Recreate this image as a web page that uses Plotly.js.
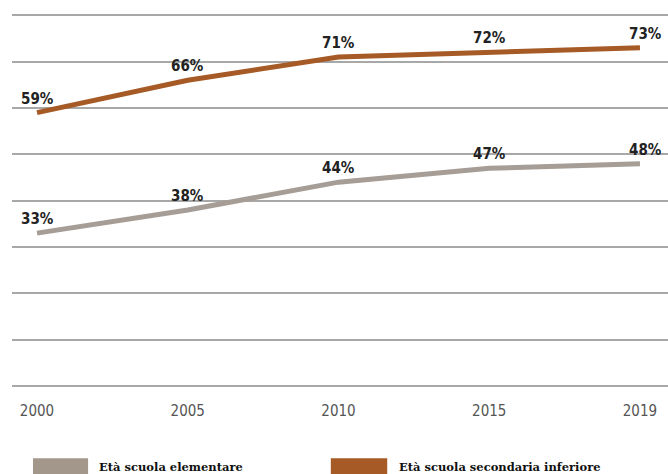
<!DOCTYPE html>
<html>
<head>
<meta charset="utf-8">
<script src="https://cdn.plot.ly/plotly-3.0.1.min.js"></script>
<style>html,body{margin:0;padding:0;background:#fff;}#chart{width:668px;height:474px;}</style>
</head>
<body>
<div id="chart"></div>
<script>
var years = ['2000', '2005', '2010', '2015', '2019'];
var elementare = [33, 38, 44, 47, 48];
var secondaria = [59, 66, 71, 72, 73];
var seriesNames = ['Età scuola elementare', 'Età scuola secondaria inferiore'];
var colors = ['#a59d96', '#a65a26'];

var narrow = '"Liberation Sans Narrow", "DejaVu Sans Condensed", Arial, sans-serif';
var labelFont = { family: narrow, size: 15, color: '#222' };

var traces = [
  { x: years, y: elementare, name: seriesNames[0], mode: 'lines', line: { color: colors[0], width: 5 }, hoverinfo: 'none' },
  { x: years, y: secondaria, name: seriesNames[1], mode: 'lines', line: { color: colors[1], width: 5 }, hoverinfo: 'none' }
];

var annotations = [];
[elementare, secondaria].forEach(function (series) {
  series.forEach(function (v, i) {
    annotations.push({
      x: i, y: v, xref: 'x', yref: 'y', text: '<b>' + v + '%</b>', showarrow: false,
      xanchor: 'center', yanchor: 'middle', yshift: 14, xshift: (i === years.length - 1 ? 6 : 0), font: labelFont
    });
  });
});

var legendFont = { family: '"DejaVu Serif", "Liberation Serif", serif', size: 11.5, color: '#111' };
annotations.push(
  { xref: 'paper', yref: 'paper', x: 0.1296, y: -0.218, xanchor: 'left', yanchor: 'middle', showarrow: false,
    text: '<b>' + seriesNames[0] + '</b>', font: legendFont },
  { xref: 'paper', yref: 'paper', x: 0.587, y: -0.218, xanchor: 'left', yanchor: 'middle', showarrow: false,
    text: '<b>' + seriesNames[1] + '</b>', font: legendFont }
);

var layout = {
  width: 668, height: 474,
  margin: { l: 12, r: 0, t: 14, b: 88 },
  paper_bgcolor: '#fff', plot_bgcolor: '#fff',
  showlegend: false,
  xaxis: {
    type: 'category', range: [-0.166, 4.186], showgrid: false, zeroline: false, showline: false,
    ticks: 'outside', ticklen: 11, tickcolor: 'rgba(0,0,0,0)',
    tickfont: { family: narrow, size: 15, color: '#555' }
  },
  yaxis: {
    range: [0, 80.3], dtick: 10, showticklabels: false, showgrid: true, gridcolor: '#a8a8a8', gridwidth: 2,
    zeroline: true, zerolinecolor: '#a8a8a8', zerolinewidth: 2, showline: false
  },
  shapes: [
    { type: 'rect', xref: 'paper', yref: 'paper', x0: 0.032, x1: 0.116, y0: -0.237, y1: -0.194, fillcolor: '#a3978c', line: { width: 0 } },
    { type: 'rect', xref: 'paper', yref: 'paper', x0: 0.486, x1: 0.572, y0: -0.237, y1: -0.194, fillcolor: '#a65a26', line: { width: 0 } }
  ],
  annotations: annotations
};

Plotly.newPlot('chart', traces, layout, { staticPlot: true, displayModeBar: false });
</script>
</body>
</html>
